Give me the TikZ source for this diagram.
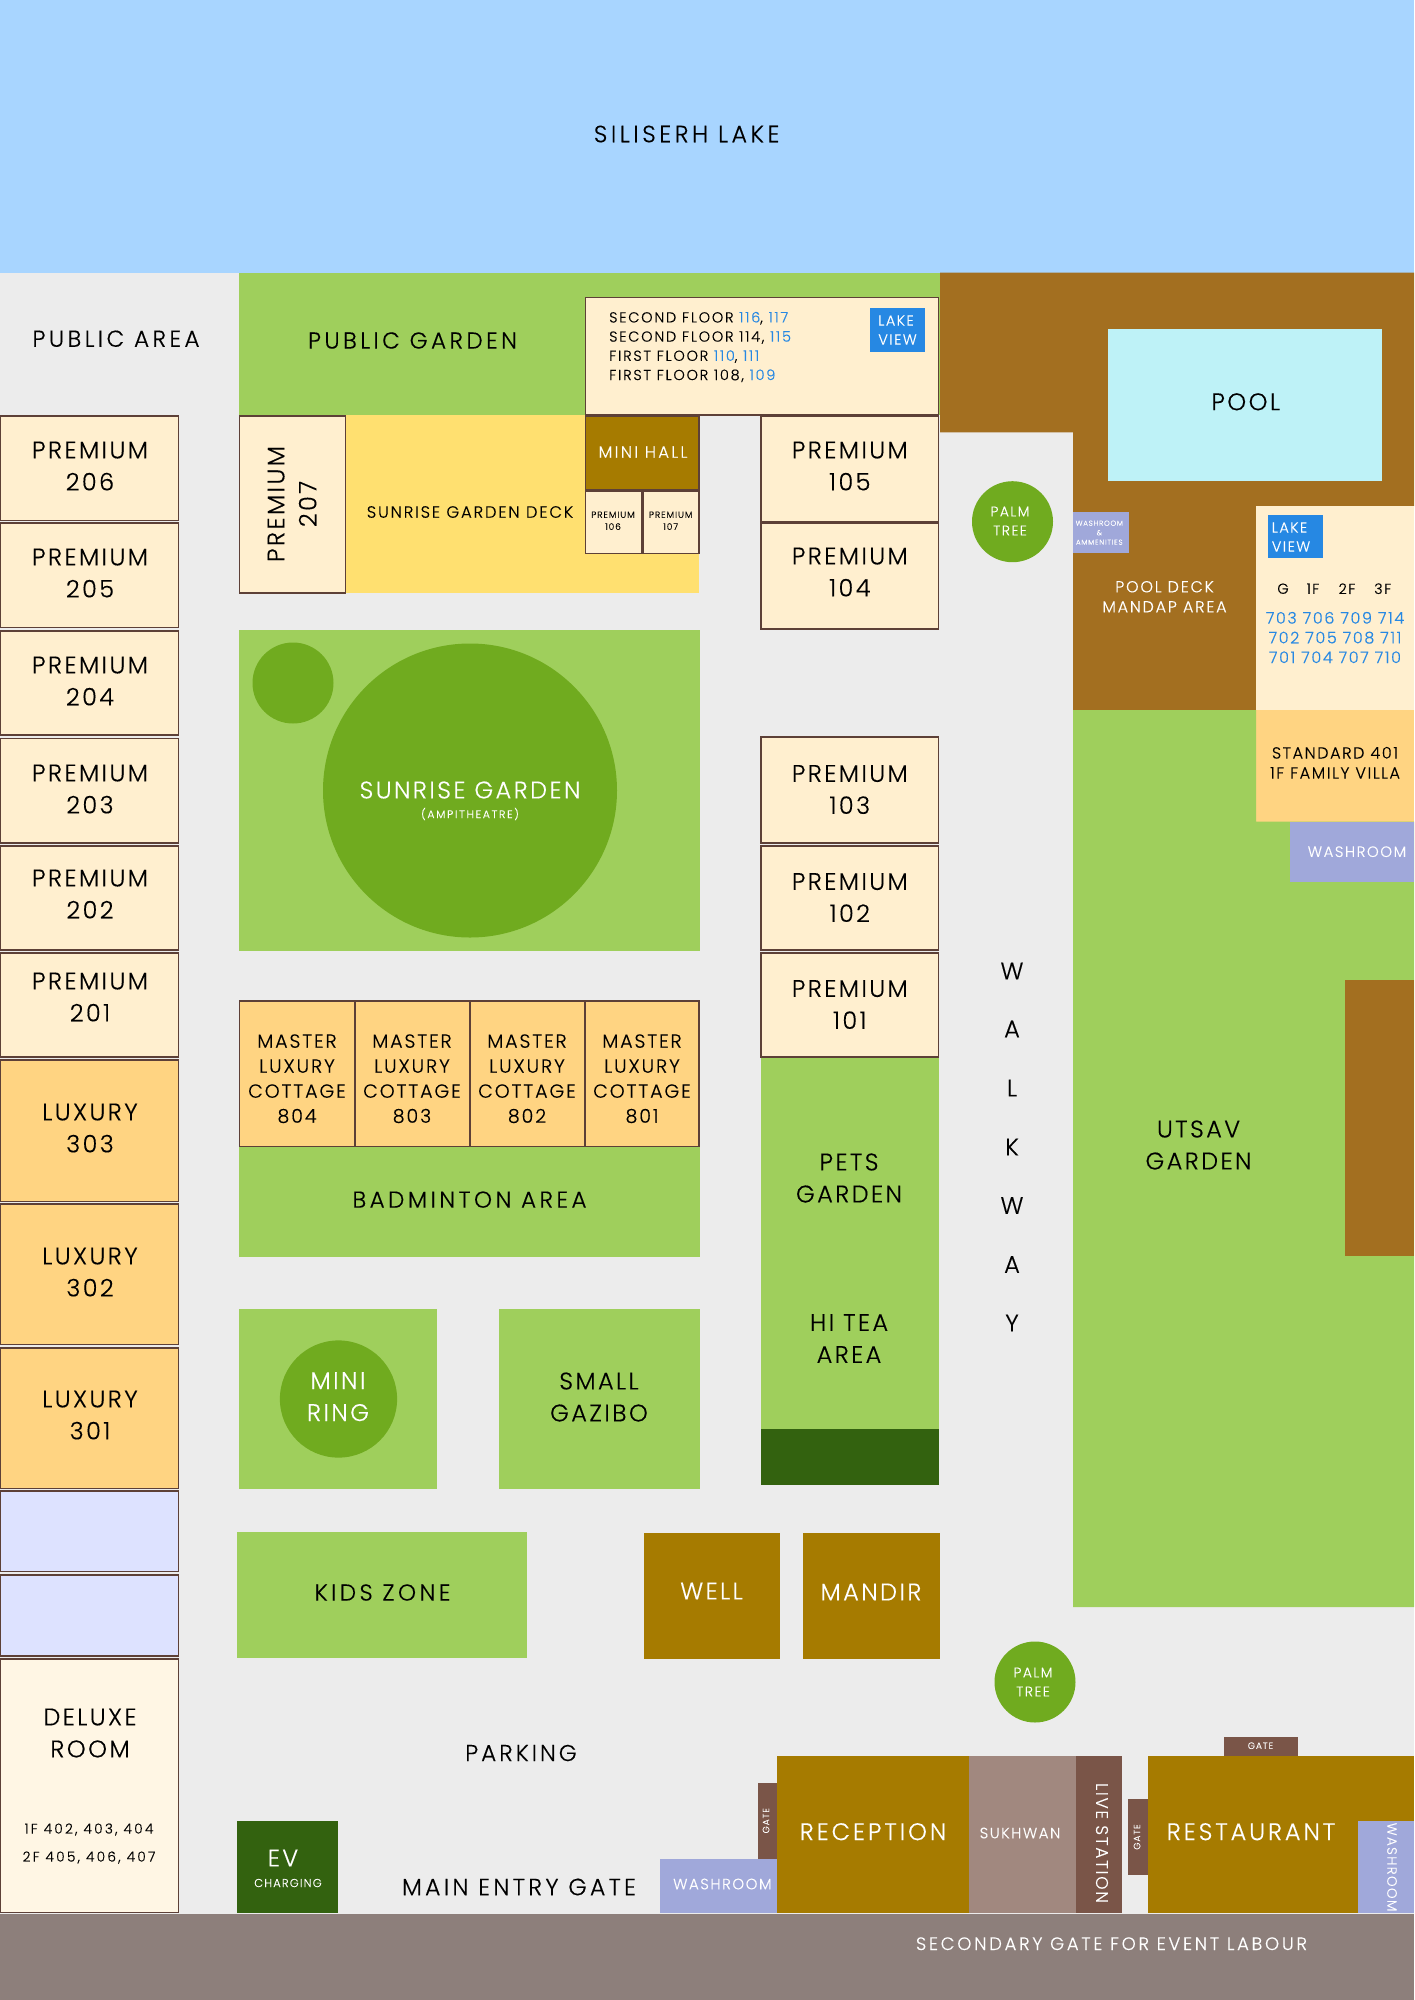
\documentclass[tikz,border=0pt]{standalone}
\usepackage{fontspec}
\setmainfont[LetterSpace=10,UprightFont={* Light},BoldFont={*},FakeBold=0.3]{Poppins}
\definecolor{bgc}{HTML}{ECECEC}
\definecolor{lake}{HTML}{A8D5FF}
\definecolor{grn}{HTML}{9FCF5C}
\definecolor{grnd}{HTML}{70AB1F}
\definecolor{grnx}{HTML}{33620F}
\definecolor{brn}{HTML}{A36F20}
\definecolor{gold}{HTML}{A67B00}
\definecolor{crm}{HTML}{FFEFCF}
\definecolor{org}{HTML}{FFD482}
\definecolor{yel}{HTML}{FFE070}
\definecolor{pool}{HTML}{BEF2F7}
\definecolor{blu}{HTML}{2688E3}
\definecolor{lav}{HTML}{A0A8DA}
\definecolor{gat}{HTML}{7A5548}
\definecolor{suk}{HTML}{A1887F}
\definecolor{bnd}{HTML}{8D7F7B}
\definecolor{pal}{HTML}{DDE2FF}
\definecolor{dlx}{HTML}{FFF6E4}
\definecolor{edg}{HTML}{5D4037}
\newcommand{\sz}[2]{\fontsize{#1}{#2}\selectfont}
\newcommand{\szl}[3]{\fontsize{#2}{#3}\selectfont\addfontfeature{LetterSpace=#1}}
\newcommand{\nb}[1]{\textcolor{blu}{#1}}
\tikzset{
  x=1pt,y=-1pt,
  room/.style={fill=crm,draw=edg,line width=1.5pt},
  lux/.style={fill=org,draw=edg,line width=1.5pt},
  lbl/.style={align=center,inner sep=0pt,text=black},
  wht/.style={align=center,inner sep=0pt,text=white},
  big/.style={font=\sz{24}{32}},
  mid/.style={font=\szl{15}{23}{32}},
  mas/.style={font=\sz{19}{25}},
  sml/.style={font=\szl{11}{16.4}{20}},
  tiny/.style={font=\sz{9.2}{9.5}},
}
\begin{document}
\begin{tikzpicture}
\useasboundingbox (0,0) rectangle (1414,2000);
\fill[bgc] (0,0) rectangle (1414,2000);
% lake and band
\fill[lake] (0,0) rectangle (1414,272.5);
\fill[bnd] (0,1914) rectangle (1414,2000);
% gardens
\fill[grn] (239,272.5) rectangle (940,415);
\fill[yel] (345,415) rectangle (699,593);
\fill[grn] (239,630) rectangle (699.5,950.5);
\fill[grnd] (470,790.5) circle (147);
\fill[grnd] (293,683) circle (40.5);
\fill[grn] (239,1147) rectangle (699.5,1256.5);
\fill[grn] (239,1309) rectangle (437,1489);
\fill[grnd] (338.5,1399) circle (58.6);
\fill[grn] (498.5,1309) rectangle (699.5,1489);
\fill[grn] (237,1532) rectangle (527,1657.7);
\fill[gold] (644,1533) rectangle (780,1659);
\fill[gold] (803,1533) rectangle (939.7,1659);
\fill[grn] (761,1058) rectangle (939,1428.5);
\fill[grnx] (761,1428.5) rectangle (939,1484.6);
% east side
\fill[brn] (940,272.5) -- (1414,272.5) -- (1414,506) -- (1256,506) -- (1256,710) -- (1073,710) -- (1073,432.3) -- (940,432.3) -- cycle;
\fill[pool] (1107.5,329) rectangle (1381.5,481);
\fill[crm] (1256,505.7) rectangle (1414,710);
\fill[org] (1256,710) rectangle (1414,821.7);
\fill[grn] (1073,710) -- (1256,710) -- (1256,821.7) -- (1414,821.7) -- (1414,1607) -- (1073,1607) -- cycle;
\fill[lav] (1290,821.7) rectangle (1414,881.7);
\fill[brn] (1345,980) rectangle (1414,1256);
\fill[lav] (1073,511.7) rectangle (1128.5,553);
\fill[blu] (1267.5,515) rectangle (1323,558.3);
\fill[grnd] (1012.5,521.7) circle (40.5);
\fill[grnd] (1035,1682) circle (40.5);
% left column
\path[room] (0,415.8) rectangle (178.5,520.5);
\path[room] (0,523) rectangle (178.5,627.5);
\path[room] (0,631) rectangle (178.5,735);
\path[room] (0,738.5) rectangle (178.5,843);
\path[room] (0,846) rectangle (178.5,950);
\path[room] (0,953) rectangle (178.5,1057);
\path[lux] (0,1060) rectangle (178.5,1201.5);
\path[lux] (0,1204) rectangle (178.5,1344.5);
\path[lux] (0,1348) rectangle (178.5,1488.5);
\path[room,fill=pal] (0,1491) rectangle (178.5,1571.5);
\path[room,fill=pal] (0,1575) rectangle (178.5,1656);
\path[room,fill=dlx] (0,1659) rectangle (178.5,1912.7);
% centre blocks
\path[room] (239.5,415.8) rectangle (345.5,593);
\path[room] (585.3,297.3) rectangle (938.7,415);
\fill[blu] (870,308.3) rectangle (925,351.7);
\path[room,fill=gold] (585.3,415.8) rectangle (699,490);
\path[room] (585.3,491.7) rectangle (641.5,553.7);
\path[room] (642.9,491.7) rectangle (699,553.7);
\path[room] (761,416) rectangle (938.7,521.7);
\path[room] (761,523) rectangle (938.7,629);
\path[room] (761,737) rectangle (938.7,843);
\path[room] (761,846) rectangle (938.7,950);
\path[room] (761,953) rectangle (938.7,1057);
\path[lux] (239.7,1001) rectangle (354.5,1146.7);
\path[lux] (355.3,1001) rectangle (469.5,1146.7);
\path[lux] (470.5,1001) rectangle (584.5,1146.7);
\path[lux] (585.3,1001) rectangle (699,1146.7);
% south buildings
\fill[grnx] (237,1821) rectangle (337.8,1913);
\fill[lav] (659.5,1858.7) rectangle (777,1913);
\fill[gat] (757.5,1783.3) rectangle (777,1858.7);
\fill[gold] (777,1756) rectangle (969,1913.3);
\fill[suk] (969,1756) rectangle (1076,1913.3);
\fill[gat] (1076,1756) rectangle (1122,1913.3);
\fill[gat] (1128,1799.3) rectangle (1147.5,1875);
\fill[gold] (1147.5,1756) rectangle (1414,1913.3);
\fill[gat] (1223.5,1737) rectangle (1298,1756);
\fill[lav] (1358,1821) rectangle (1414,1913.3);
% labels
\node[lbl,font=\szl{15}{23.6}{32}] (lake) at (686.6,134) {SILISERH LAKE};
\node[lbl,mid] (parea) at (116,338.7) {PUBLIC AREA};
\node[lbl,mid] (pgard) at (412.5,340.5) {PUBLIC GARDEN};
\node[lbl,anchor=west,align=left,font=\szl{12}{14.5}{19.2}] (info) at (609,347) {SECOND FLOOR \nb{116}, \nb{117}\\SECOND FLOOR 114, \nb{115}\\FIRST FLOOR \nb{110}, \nb{111}\\FIRST FLOOR 108, \nb{109}};
\node[wht,align=left,font=\sz{14.5}{19}] (lv1) at (897.5,330) {LAKE\\VIEW};
\node[lbl,big] (poolt) at (1245.7,401.8) {POOL};
\node[wht,font=\szl{14}{16.4}{20}] (mini) at (643,452) {MINI HALL};
\node[lbl,font=\sz{9}{12}] (p106) at (613,520.7) {PREMIUM\\106};
\node[lbl,font=\sz{9}{12}] (p107) at (670.7,520.7) {PREMIUM\\107};
\node[lbl,sml] (deck) at (470,512) {SUNRISE GARDEN DECK};
\node[lbl,big,rotate=90] (p207) at (292,504) {PREMIUM\\207};
\node[lbl,big] (p105) at (849.8,466) {PREMIUM\\105};
\node[lbl,big] (p104) at (849.8,572) {PREMIUM\\104};
\node[lbl,big] (p103) at (849.8,789.5) {PREMIUM\\103};
\node[lbl,big] (p102) at (849.8,897.5) {PREMIUM\\102};
\node[lbl,big] (p101) at (849.8,1004.5) {PREMIUM\\101};
\node[lbl,big] (p206) at (90,466) {PREMIUM\\206};
\node[lbl,big] (p205) at (90,573) {PREMIUM\\205};
\node[lbl,big] (p204) at (90,681) {PREMIUM\\204};
\node[lbl,big] (p203) at (90,789) {PREMIUM\\203};
\node[lbl,big] (p202) at (90,894) {PREMIUM\\202};
\node[lbl,big] (p201) at (90,997) {PREMIUM\\201};
\node[lbl,big] (l303) at (90,1128) {LUXURY\\303};
\node[lbl,big] (l302) at (90,1272) {LUXURY\\302};
\node[lbl,big] (l301) at (90,1415) {LUXURY\\301};
\node[lbl,big] (dlxt) at (90,1733) {DELUXE\\ROOM};
\node[lbl,font=\szl{16}{13.8}{28}] (dlxs) at (89,1843.5) {1F 402, 403, 404\\2F 405, 406, 407};
\node[wht,big] (sun) at (470,790) {SUNRISE GARDEN};
\node[wht,font=\szl{15}{11}{13}] (amp) at (470,814) {(AMPITHEATRE)};
\node[lbl,mas] (m804) at (297,1078.7) {MASTER\\LUXURY\\COTTAGE\\804};
\node[lbl,mas] (m803) at (412,1078.7) {MASTER\\LUXURY\\COTTAGE\\803};
\node[lbl,mas] (m802) at (527,1078.7) {MASTER\\LUXURY\\COTTAGE\\802};
\node[lbl,mas] (m801) at (642,1078.7) {MASTER\\LUXURY\\COTTAGE\\801};
\node[lbl,mid] (bad) at (469.5,1199.6) {BADMINTON AREA};
\node[wht,big] (ring) at (338,1396.7) {MINI\\RING};
\node[lbl,big] (gaz) at (599,1397) {SMALL\\GAZIBO};
\node[lbl,mid] (kids) at (382.5,1592.5) {KIDS ZONE};
\node[wht,big] (well) at (711.5,1591) {WELL};
\node[wht,big] (mand) at (871,1592) {MANDIR};
\node[lbl,big] (pets) at (849,1178) {PETS\\GARDEN};
\node[lbl,big] (hitea) at (849,1338.5) {HI TEA\\AREA};
\node[lbl,big] (uts) at (1198.5,1145) {UTSAV\\GARDEN};
\node[wht,font=\szl{11}{16}{20}] (pdeck) at (1164.5,596.7) {POOL DECK\\MANDAP AREA};
\node[wht,align=left,font=\sz{14.5}{19}] (lv2) at (1291,537) {LAKE\\VIEW};
\node[lbl,font=\sz{14.5}{18}] (vg) at (1283,588.7) {G};
\node[lbl,font=\sz{14.5}{18}] (v1) at (1313,588.7) {1F};
\node[lbl,font=\sz{14.5}{18}] (v2) at (1347,588.7) {2F};
\node[lbl,font=\sz{14.5}{18}] (v3) at (1382.7,588.7) {3F};
\node[lbl,text=blu,font=\sz{16}{19.7}] (vnum) at (1335,637.5) {703 706 709 714\\702 705 708 711\\701 704 707 710};
\node[lbl,font=\sz{16}{20}] (std) at (1335,762.7) {STANDARD 401\\1F FAMILY VILLA};
\node[wht,font=\sz{15}{20}] (wr1) at (1357,851.7) {WASHROOM};
\node[wht,font=\sz{7.2}{9.5}] (wr2) at (1099.3,532.7) {WASHROOM\\\&\\AMMENITIES};
\node[wht,font=\sz{14}{19}] (palm1) at (1010,521) {PALM\\TREE};
\node[wht,font=\sz{14}{19}] (palm2) at (1033,1682) {PALM\\TREE};
\node[lbl,big] (w1) at (1012,971) {W};
\node[lbl,big] (w2) at (1012,1029) {A};
\node[lbl,big] (w3) at (1012,1088) {L};
\node[lbl,big] (w4) at (1012,1147) {K};
\node[lbl,big] (w5) at (1012,1205.5) {W};
\node[lbl,big] (w6) at (1012,1264.5) {A};
\node[lbl,big] (w7) at (1012,1323) {Y};
\node[lbl,font=\szl{13}{23}{32}] (park) at (521,1753) {PARKING};
\node[lbl,font=\szl{14}{23.5}{28}] (main) at (519,1887) {MAIN ENTRY GATE};
\node[wht,big] (ev) at (283,1858) {EV};
\node[wht,font=\sz{11.5}{14}] (evc) at (288,1883) {CHARGING};
\node[wht,font=\sz{15}{20}] (wr3) at (722.4,1884) {WASHROOM};
\node[wht,tiny,rotate=90] (g1) at (766,1820.7) {GATE};
\node[wht,font=\szl{12}{24}{32}] (rec) at (873,1831.7) {RECEPTION};
\node[wht,font=\sz{15}{18}] (sukt) at (1020,1833) {SUKHWAN};
\node[wht,font=\sz{17}{20},rotate=-90] (live) at (1102,1843) {LIVE STATION};
\node[wht,tiny,rotate=90] (g2) at (1137,1837) {GATE};
\node[wht,font=\szl{12}{24}{32}] (rest) at (1251,1831.7) {RESTAURANT};
\node[wht,tiny] (g3) at (1260.5,1745.7) {GATE};
\node[wht,font=\sz{13.5}{17},rotate=-90] (wr4) at (1392,1867) {WASHROOM};
\node[wht,font=\szl{15}{18}{22}] (sec) at (1111.5,1943.7) {SECONDARY GATE FOR EVENT LABOUR};
\end{tikzpicture}
\end{document}
